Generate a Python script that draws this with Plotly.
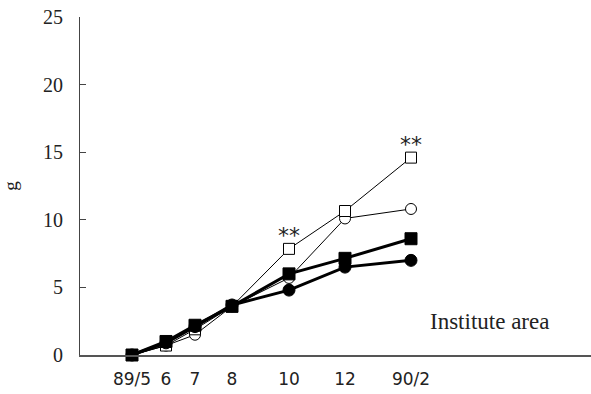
import plotly.graph_objects as go

# Sampling dates and their axis labels
dates = ["1989-05-15", "1989-06-18", "1989-07-17", "1989-08-23",
         "1989-10-19", "1989-12-14", "1990-02-18"]
date_labels = ["89/5", "6", "7", "8", "10", "12", "90/2"]

# Weight (g) per treatment
open_square = [0.0, 0.7, 1.9, 3.6, 7.85, 10.65, 14.6]
open_circle = [0.0, 0.7, 1.5, 3.6, 5.7, 10.1, 10.8]
filled_square = [0.0, 1.0, 2.2, 3.6, 6.0, 7.15, 8.6]
filled_circle = [0.0, 0.9, 2.1, 3.7, 4.8, 6.5, 7.0]

# Significance marks (date index, label)
signif = [(4, "**"), (6, "**")]

SERIF = "Liberation Serif"

fig = go.Figure()

def add_series(y, symbol, width, size, fill):
    fig.add_trace(go.Scatter(
        x=dates, y=y, mode="lines+markers",
        line=dict(color="black", width=width),
        marker=dict(symbol=symbol, size=size,
                    color="black" if fill else "white",
                    line=dict(color="black", width=1)),
        showlegend=False, cliponaxis=False))

add_series(open_circle, "circle", 1, 11, False)
add_series(open_square, "square", 1, 11, False)
add_series(filled_circle, "circle", 3, 12, True)
add_series(filled_square, "square", 3, 12, True)

for idx, txt in signif:
    fig.add_annotation(x=dates[idx], y=open_square[idx], text=txt,
                       showarrow=False, yshift=13,
                       font=dict(family="DejaVu Sans", size=22, color="#222"))

fig.add_annotation(x=1, xref="paper", xanchor="right", xshift=-40,
                   y=2.5, yref="y", text="Institute area", showarrow=False,
                   font=dict(family=SERIF, size=23, color="#222"))

fig.update_layout(
    width=591, height=394,
    margin=dict(l=80, r=0, t=17, b=39),
    plot_bgcolor="white", paper_bgcolor="white",
    xaxis=dict(
        type="date", range=["1989-03-24", "1990-08-17"],
        tickmode="array", tickvals=dates, ticktext=date_labels,
        showline=True, linecolor="#555", linewidth=1.5,
        showgrid=False, zeroline=False, ticks="",
        ticklabelstandoff=8,
        tickfont=dict(family="DejaVu Sans", size=17, color="#222"),
    ),
    yaxis=dict(
        range=[0, 25], tickvals=[0, 5, 10, 15, 20, 25],
        showline=True, linecolor="#444", linewidth=1.2,
        showgrid=False, zeroline=False,
        ticks="inside", ticklen=6, tickcolor="#444",
        ticklabelstandoff=12,
        tickfont=dict(family=SERIF, size=20, color="#222"),
        title=dict(text="g", standoff=22,
                   font=dict(family=SERIF, size=19, color="#222")),
    ),
)

fig.write_html("out.html")
